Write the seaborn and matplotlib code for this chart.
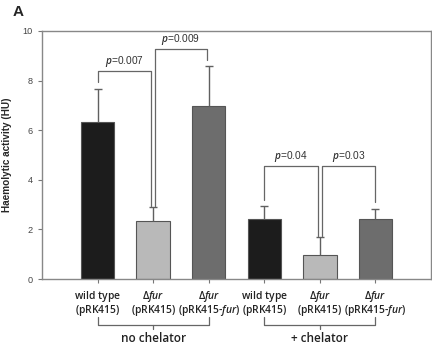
import matplotlib
matplotlib.use('Agg')
import matplotlib.pyplot as plt
import matplotlib.transforms as mtransforms
import seaborn as sns
import pandas as pd

# bar data (HU)
labels = ['wt_nc', 'fur_nc', 'comp_nc', 'wt_c', 'fur_c', 'comp_c']
line1 = ['$\\mathrm{wild\\ type}$', '$\\Delta\\mathit{fur}$', '$\\Delta\\mathit{fur}$',
         '$\\mathrm{wild\\ type}$', '$\\Delta\\mathit{fur}$', '$\\Delta\\mathit{fur}$']
line2 = ['$\\mathrm{(pRK415)}$', '$\\mathrm{(pRK415)}$', '$\\mathrm{(pRK415\\text{-}}\\mathit{fur}\\mathrm{)}$',
         '$\\mathrm{(pRK415)}$', '$\\mathrm{(pRK415)}$', '$\\mathrm{(pRK415\\text{-}}\\mathit{fur}\\mathrm{)}$']
values = [6.35, 2.32, 6.98, 2.42, 0.98, 2.42]
errors = [1.31, 0.57, 1.61, 0.54, 0.70, 0.40]
colors = ['#1c1c1c', '#b9b9b9', '#6d6d6d', '#1c1c1c', '#b9b9b9', '#6d6d6d']

# significance brackets: (x1, x2, y_left_bottom, y_top, y_right_bottom, label)
brackets = [(0.0, 0.97, 7.94, 8.39, 2.95, '0.007'),
            (1.03, 1.97, 2.95, 9.27, 8.83, '0.009'),
            (3.0, 3.96, 3.19, 4.56, 1.72, '0.04'),
            (4.04, 5.0, 1.72, 4.56, 3.10, '0.03')]
groups = [(0, 2, 'no chelator'), (3, 5, '+ chelator')]

df = pd.DataFrame({'strain': labels, 'HU': values})

sns.set_style('white')
plt.rcParams['font.family'] = ['Liberation Sans', 'DejaVu Sans']
plt.rcParams['mathtext.fontset'] = 'custom'
plt.rcParams['mathtext.it'] = 'Open Sans:italic:semibold'
plt.rcParams['mathtext.rm'] = 'Open Sans:semibold'

fig = plt.figure(figsize=(4.32, 3.51), dpi=100)
ax = fig.add_axes([0.0972, 0.205, 0.9005, 0.7067])

sns.barplot(data=df, x='strain', y='HU', hue='strain', palette=colors, order=labels,
            width=0.6, legend=False, ax=ax, edgecolor='#555555', linewidth=0.8)
eb = ax.errorbar(range(len(values)), values, yerr=[[0] * len(values), errors], fmt='none',
                 ecolor='#606060', elinewidth=1, capsize=3, capthick=1)
eb[1][0].set_visible(False)

lc = '#666666'
for x1, x2, yl, yt, yr, lab in brackets:
    ax.plot([x1, x1, x2, x2], [yl, yt, yt, yr], color=lc, lw=0.9)
    ax.text((x1 + x2) / 2, yt + 0.08, '$\\it{p}$=' + lab, ha='center', va='bottom', fontsize=7.3,
            color='#333333')

trans = mtransforms.blended_transform_factory(ax.transData, ax.transAxes)

# two-line category labels
for i in range(len(labels)):
    ax.text(i, -0.08, line1[i], transform=trans, ha='center', va='baseline',
            fontsize=7.4, color='#222222')
    ax.text(i, -0.135, line2[i], transform=trans, ha='center', va='baseline',
            fontsize=7.4, color='#222222')

for g1, g2, lab in groups:
    mid = (g1 + g2) / 2
    ax.plot([g1, g1, g2, g2], [-0.155, -0.187, -0.187, -0.155], color=lc, lw=0.9,
            transform=trans, clip_on=False)
    ax.plot([mid, mid], [-0.187, -0.202], color=lc, lw=0.9, transform=trans, clip_on=False)
    ax.text(mid, -0.215, lab, transform=trans, ha='center', va='top', fontsize=8.5,
            family='Open Sans', fontweight='semibold', color='#222222')

ax.set_xlim(-1, 6)
ax.set_ylim(0, 10)
ax.set_yticks([0, 2, 4, 6, 8, 10])
ax.set_xticks(range(len(values)))
ax.set_xticklabels([''] * len(values))
ax.tick_params(axis='both', direction='out', length=3, width=0.8, color='#777777', bottom=True, left=True)
ax.tick_params(axis='y', labelsize=6.6, labelcolor='#444444')
for s in ax.spines.values():
    s.set_color('#888888')
    s.set_linewidth(1)
ax.set_xlabel('')
ax.set_ylabel('Haemolytic activity (HU)', fontsize=7.2, fontweight='bold', labelpad=8)

fig.text(0.03, 0.985, 'A', fontsize=11, fontweight='bold', ha='left', va='top')

fig.savefig('out.png', dpi=100)
